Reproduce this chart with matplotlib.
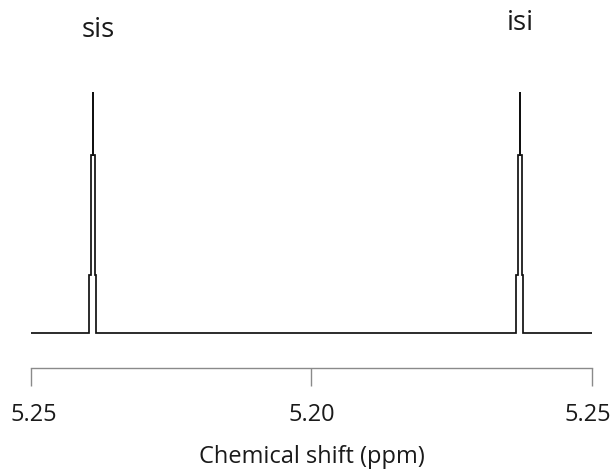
import matplotlib
matplotlib.use("Agg")
import matplotlib.pyplot as plt
import matplotlib.transforms as mtransforms

plt.rcParams['font.family'] = ['Open Sans', 'DejaVu Sans']

# Spectrum polyline (chemical shift in ppm, relative intensity)
shift_ppm = [5.2500,
             5.23965, 5.23965, 5.23935, 5.23935, 5.23899, 5.23899, 5.23899,
             5.23853, 5.23853, 5.23835, 5.23835,
             5.16353, 5.16353, 5.16324, 5.16324, 5.16282, 5.16282, 5.16282,
             5.16241, 5.16241, 5.16223, 5.16223,
             5.1500]
intensity = [0.0,
             0.0, 0.24, 0.24, 0.74, 0.74, 1.0, 0.74,
             0.74, 0.24, 0.24, 0.0,
             0.0, 0.24, 0.24, 0.74, 0.74, 1.0, 0.74,
             0.74, 0.24, 0.24, 0.0,
             0.0]

peak_labels = ["sis", "isi"]
peak_label_ppm = [5.2381, 5.1628]
peak_label_y = [1.228, 1.257]

tick_values = [5.25, 5.20, 5.15]
tick_labels = ["5.25", "5.20", "5.25"]
x_label = "Chemical shift (ppm)"

fig = plt.figure(figsize=(6.14, 4.70), dpi=100)
ax = fig.add_axes([31 / 614, 102 / 470, 561 / 614, 368 / 470])

ax.plot(shift_ppm, intensity, color='#111111', lw=1.25, solid_joinstyle='miter')

for lab, xp, yp in zip(peak_labels, peak_label_ppm, peak_label_y):
    ax.text(xp, yp, lab, ha='center', va='baseline', fontsize=20, color='#1a1a1a')

ax.set_xlim(5.25, 5.15)
ax.set_ylim(-0.145, 1.382)

for s in ['top', 'right', 'left']:
    ax.spines[s].set_visible(False)
ax.spines['bottom'].set_color('#8a8a8a')
ax.spines['bottom'].set_linewidth(1.0)
ax.set_yticks([])
ax.set_xticks(tick_values)
ax.set_xticklabels(tick_labels, fontsize=17, color='#1a1a1a')
ax.tick_params(axis='x', direction='out', length=13, width=1.0, color='#8a8a8a', pad=12)
ax.set_xlabel(x_label, fontsize=17, color='#1a1a1a', labelpad=13)

fig.canvas.draw()
lbls = ax.get_xticklabels()
lbls[0].set_transform(lbls[0].get_transform() + mtransforms.ScaledTranslation(3 / 100, 0, fig.dpi_scale_trans))
lbls[-1].set_transform(lbls[-1].get_transform() + mtransforms.ScaledTranslation(-4 / 100, 0, fig.dpi_scale_trans))

fig.savefig("out.png", dpi=100)
